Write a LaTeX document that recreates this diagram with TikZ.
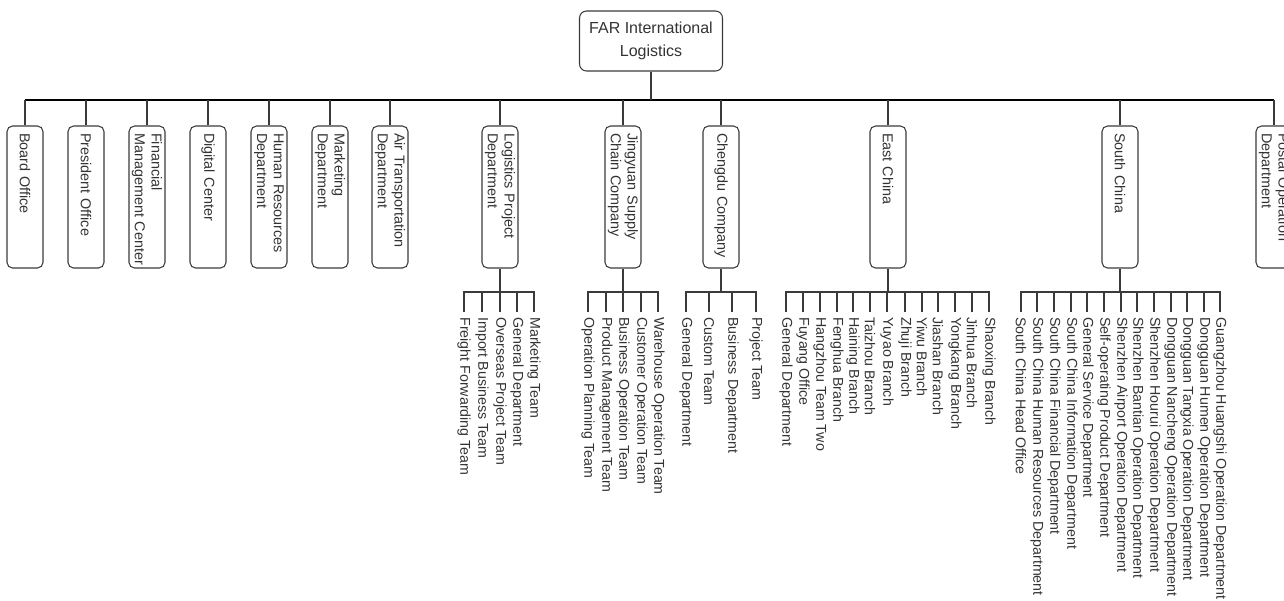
\documentclass[tikz,border=0pt]{standalone}
\usepackage{fontspec}
\setmainfont{Liberation Sans}
\usetikzlibrary{positioning}
\definecolor{linegray}{HTML}{3A3A3A}
\definecolor{textgray}{HTML}{333333}
\hyphenpenalty=10000

\tikzset{
    orgroot/.style={draw=linegray, line width=0.6pt, rounded corners=1.4mm, minimum width=28.6mm, minimum height=12mm, align=center, text=textgray, font=\fontsize{9.1}{13}\selectfont},
    deptbox/.style={draw=linegray, line width=0.6pt, rounded corners=1.1mm, rotate=-90, minimum height=7.2mm, text width=25.6mm, inner xsep=1.4mm, inner ysep=0pt, align=left, text=textgray, font=\fontsize{8.2}{9.6}\selectfont},
    teamlabel/.style={rotate=-90, anchor=west, inner xsep=1mm, inner ysep=0pt, text=textgray, font=\fontsize{8.1}{9}\selectfont},
    linkline/.style={draw=linegray, line width=0.6pt},
    busline/.style={draw=black, line width=0.8pt},
}

\begin{document}
\begin{tikzpicture}[x=0.02cm, y=-0.02cm]
        \useasboundingbox (0,0) rectangle (1284,600);
        \clip (0,0) rectangle (1284,600);
        % top
        \node[orgroot] (root) at (651,41) {FAR International\\Logistics};
        \coordinate (bus) at (651,100);
        % departments
        \node[deptbox] (board) at (25,197) {Board Office};
        \node[deptbox] (president) at (86,197) {President Office};
        \node[deptbox] (finance) at (147,197) {Financial\\\mbox{Management Center}};
        \node[deptbox] (digital) at (208,197) {Digital Center};
        \node[deptbox] (hr) at (269,197) {Human Resources\\Department};
        \node[deptbox] (marketing) at (330,197) {Marketing\\Department};
        \node[deptbox] (air) at (390,197) {Air Transportation\\Department};
        \node[deptbox] (logp) at (500,197) {Logistics Project\\Department};
        \node[deptbox] (jingyuan) at (623,197) {Jingyuan Supply\\Chain Company};
        \node[deptbox] (chengdu) at (721,197) {Chengdu Company};
        \node[deptbox] (east) at (888,197) {East China};
        \node[deptbox] (south) at (1120,197) {South China};
        \node[deptbox] (postal) at (1274,197) {Postal Operation\\Department};
        % bus and drops
        \draw[busline] (board.west |- bus) -- (postal.west |- bus);
        \draw[linkline] (root.south) -- (root.south |- bus);
        \foreach \n in {board,president,finance,digital,hr,marketing,air,logp,jingyuan,chengdu,east,south,postal}
            \draw[linkline] (\n.west) -- (\n.west |- bus);
        % teams
        \foreach \x/\t [count=\i] in {464/Freight Forwarding Team, 482/Import Business Team, 500/Overseas Project Team, 517/General Department, 534/Marketing Team} {
            \node[teamlabel] (lp\i) at (\x,312) {\t};
            \draw[linkline] (lp\i.west) -- ++(0,-20) -| (logp.east);
        }
        \foreach \x/\t [count=\i] in {588/Operation Planning Team, 606/Product Management Team, 623/Business Operation Team, 641/Customer Operation Team, 658/Warehouse Operation Team} {
            \node[teamlabel] (jy\i) at (\x,312) {\t};
            \draw[linkline] (jy\i.west) -- ++(0,-20) -| (jingyuan.east);
        }
        \foreach \x/\t [count=\i] in {686/General Department, 709/Custom Team, 732/Business Department, 756/Project Team} {
            \node[teamlabel] (cd\i) at (\x,312) {\t};
            \draw[linkline] (cd\i.west) -- ++(0,-20) -| (chengdu.east);
        }
        \foreach \x/\t [count=\i] in {786/General Department, 803/Fuyang Office, 820/Hangzhou Team Two, 837/Fenghua Branch, 853/Haining Branch, 870/Taizhou Branch, 887/Yuyao Branch, 905/Zhuji Branch, 922/Yiwu Branch, 938/Jiashan Branch, 955/Yongkang Branch, 972/Jinhua Branch, 989/Shaoxing Branch} {
            \node[teamlabel] (ec\i) at (\x,312) {\t};
            \draw[linkline] (ec\i.west) -- ++(0,-20) -| (east.east);
        }
        \foreach \x/\t [count=\i] in {1021/South China Head Office, 1037/South China Human Resources Department, 1054/South China Financial Department, 1071/South China Information Department, 1087/General Service Department, 1104/Self-operating Product Department, 1121/Shenzhen Airport Operation Department, 1137/Shenzhen Bantian Operation Department, 1154/Shenzhen Hourui Operation Department, 1171/Dongguan Nancheng Operation Department, 1187/Dongguan Tangxia Operation Department, 1204/Dongguan Humen Operation Department, 1220/Guangzhou Huangshi Operation Department} {
            \node[teamlabel] (sc\i) at (\x,312) {\t};
            \draw[linkline] (sc\i.west) -- ++(0,-20) -| (south.east);
        }
    \end{tikzpicture}
\end{document}
